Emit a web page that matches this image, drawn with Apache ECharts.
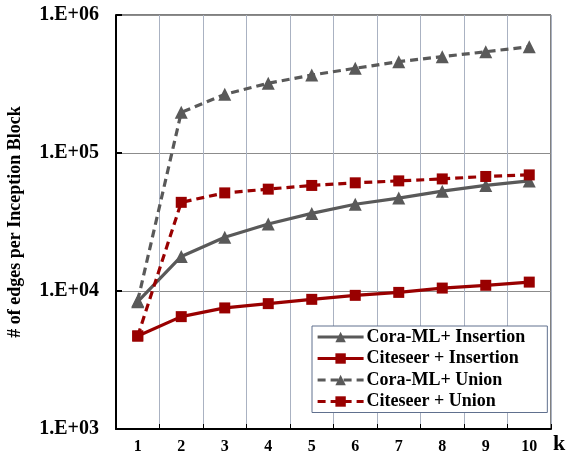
<!DOCTYPE html>
<html>
<head>
<meta charset="utf-8">
<script src="https://cdn.jsdelivr.net/npm/echarts@6/dist/echarts.min.js"></script>
<style>
html,body{margin:0;padding:0;background:#fff;}
#chart{width:569px;height:458px;}
</style>
</head>
<body>
<div id="chart"></div>
<script>
// k values on the x axis
const kValues = ['1','2','3','4','5','6','7','8','9','10'];

// edges per inception block for each setting
const coraInsertion    = [8370, 17800, 24500, 30600, 36500, 42500, 47100, 52900, 58200, 62800];
const citeseerInsertion = [4720, 6520, 7540, 8100, 8700, 9300, 9770, 10500, 11000, 11600];
const coraUnion        = [8500, 197000, 266000, 320000, 367000, 411000, 459000, 499000, 542000, 589000];
const citeseerUnion    = [4720, 43900, 51400, 54700, 58200, 60800, 62800, 64900, 67600, 69400];

const seriesNames = ['Cora-ML+ Insertion', 'Citeseer + Insertion', 'Cora-ML+ Union', 'Citeseer + Union'];

const GRAY = '#595959';
const RED = '#990000';
const FONT = '"Liberation Serif", "Times New Roman", serif';

function makeSeries(name, data, color, symbol, dashed) {
  return {
    name: name,
    type: 'line',
    data: data,
    symbol: symbol,
    symbolSize: symbol === 'triangle' ? 13 : 11,
    itemStyle: { color: color },
    lineStyle: { color: color, width: 3.2, type: dashed ? [8, 5] : 'solid' },
    emphasis: { disabled: true },
    z: 3
  };
}

const chart = echarts.init(document.getElementById('chart'), null, { renderer: 'canvas' });
chart.setOption({
  animation: false,
  backgroundColor: '#fff',
  grid: {
    left: 116, top: 15, width: 435, height: 414,
    containLabel: false,
    outerBoundsMode: 'none',
    show: true, borderColor: '#000', borderWidth: 1, backgroundColor: 'transparent'
  },
  legend: {
    orient: 'vertical',
    left: 312, top: 326,
    padding: [2, 22, 2, 4],
    itemGap: 3.5,
    itemWidth: 46, itemHeight: 13,
    backgroundColor: '#fff',
    borderColor: '#60708e', borderWidth: 1,
    lineStyle: { width: 3.2 },
    textStyle: { fontFamily: FONT, fontWeight: 'bold', fontSize: 18, color: '#000', padding: [0, 0, 0, -2] },
    data: seriesNames
  },
  xAxis: {
    type: 'category',
    data: kValues,
    boundaryGap: true,
    name: 'k',
    nameLocation: 'end',
    nameGap: 2,
    nameTextStyle: { fontFamily: FONT, fontWeight: 'bold', fontSize: 22, color: '#000', verticalAlign: 'top', padding: [4, 0, 0, 0] },
    axisLine: { lineStyle: { color: '#000', width: 2 } },
    axisTick: { show: true, inside: true, length: 5, lineStyle: { color: '#000', width: 1 } },
    axisLabel: { fontFamily: FONT, fontWeight: 'bold', fontSize: 16, color: '#000', margin: 10 },
    splitLine: { show: true, lineStyle: { color: '#aab2c2', width: 1 } }
  },
  yAxis: {
    type: 'log',
    logBase: 10,
    min: 1000,
    max: 1000000,
    name: '# of edges per Inception Block',
    nameLocation: 'middle',
    nameGap: 92,
    nameRotate: 90,
    nameTextStyle: { fontFamily: FONT, fontWeight: 'bold', fontSize: 18, color: '#000' },
    axisLine: { show: true, lineStyle: { color: '#000', width: 2 } },
    axisTick: { show: true, inside: true, length: 6, lineStyle: { color: '#000', width: 2 } },
    axisLabel: {
      fontFamily: FONT, fontWeight: 'bold', fontSize: 20, color: '#000', margin: 17,
      formatter: function (v) {
        const e = Math.round(Math.log10(v));
        return '1.E+' + (e < 10 ? '0' + e : e);
      }
    },
    splitLine: { show: true, lineStyle: { color: '#8c8c8c', width: 1 } }
  },
  series: [
    makeSeries(seriesNames[0], coraInsertion, GRAY, 'triangle', false),
    makeSeries(seriesNames[1], citeseerInsertion, RED, 'rect', false),
    makeSeries(seriesNames[2], coraUnion, GRAY, 'triangle', true),
    makeSeries(seriesNames[3], citeseerUnion, RED, 'rect', true)
  ]
});
</script>
</body>
</html>
